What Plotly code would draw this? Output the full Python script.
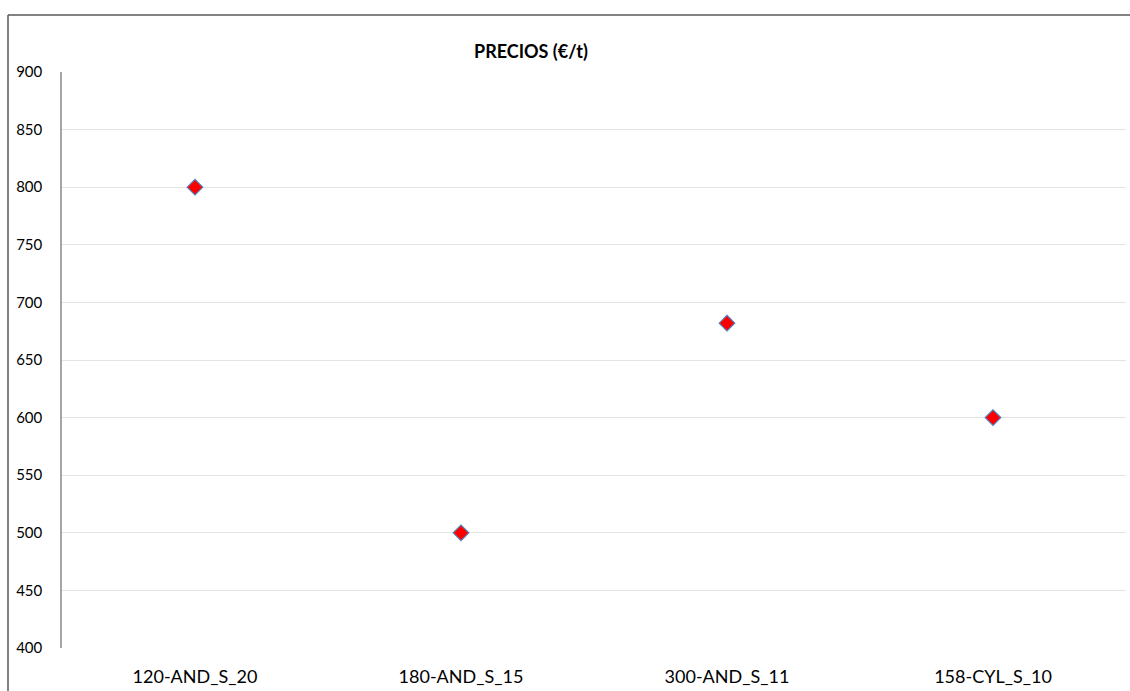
import plotly.graph_objects as go

categories = ["120-AND_S_20", "180-AND_S_15", "300-AND_S_11", "158-CYL_S_10"]
precios = [800, 500, 682, 600]
title_text = "PRECIOS (€/t)"

W, H = 1130, 691
L, R, T, B = 62, 4, 72, 43
PW, PH = W - L - R, H - T - B
FONT = "Lato, Calibri, 'Liberation Sans', sans-serif"

fig = go.Figure(go.Scatter(
    x=categories,
    y=precios,
    mode="markers",
    marker=dict(symbol="diamond", size=12, color="#ff0000",
                line=dict(color="#4f81bd", width=1.2)),
    showlegend=False,
))

# chart frame: only top and left edges are inside the crop
frame_x0 = (8 - L) / PW
frame_y1 = 1 + (T - 15) / PH
frame = dict(color="#595959", width=1.5)

fig.update_layout(
    width=W, height=H,
    margin=dict(l=L, r=R, t=T, b=B),
    paper_bgcolor="white",
    plot_bgcolor="white",
    font=dict(family=FONT, color="#000000"),
    annotations=[dict(
        text="<b>" + title_text + "</b>",
        xref="paper", yref="paper",
        x=(531 - L) / PW, y=1 + 21 / PH,
        xanchor="center", yanchor="middle",
        showarrow=False, font=dict(size=18, family=FONT),
    )],
    shapes=[
        dict(type="line", xref="paper", yref="paper",
             x0=frame_x0, x1=(W - L) / PW, y0=frame_y1, y1=frame_y1, line=frame),
        dict(type="line", xref="paper", yref="paper",
             x0=frame_x0, x1=frame_x0, y0=-B / PH, y1=frame_y1, line=frame),
    ],
)

fig.update_xaxes(
    type="category",
    range=[-0.5, 3.5],
    showgrid=False,
    showline=False,
    zeroline=False,
    tickfont=dict(size=18, family=FONT),
    ticks="outside", ticklen=12, tickcolor="rgba(0,0,0,0)",
)

fig.update_yaxes(
    range=[400, 900],
    dtick=50,
    showgrid=True,
    gridcolor="#e3e3e3",
    gridwidth=1,
    showline=True,
    linecolor="#a6a6a6",
    linewidth=1.5,
    zeroline=False,
    tickfont=dict(size=15, family=FONT),
    ticks="outside", ticklen=15, tickcolor="rgba(0,0,0,0)",
)

# drop the default page margin so the figure fills the window exactly
fig.write_html(
    "out.html",
    config={"displayModeBar": False},
    post_script="document.body.style.margin='0';document.body.style.overflow='hidden';",
)
